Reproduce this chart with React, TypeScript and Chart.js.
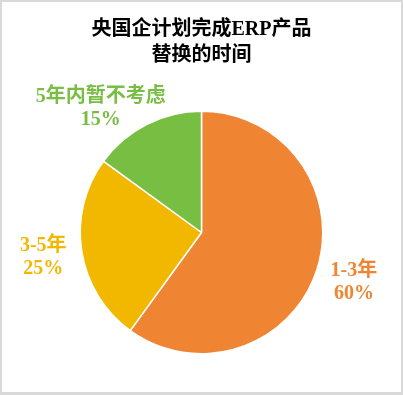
import React, { useEffect, useRef } from "react";
import { Chart, registerables } from "chart.js";

Chart.register(...registerables);

const categories = ["1-3年", "3-5年", "5年内暂不考虑"];
const values = [60, 25, 15];
const colors = ["#EF8533", "#F2B800", "#78BE43"];
const titleLines = ["央国企计划完成ERP产品", "替换的时间"];

const FONT = '"Liberation Serif", "Noto Sans CJK SC", serif';

const labelPlugin = {
  id: "outerLabels",
  afterDatasetsDraw(chart: any, _args: any, opts: any) {
    const ctx = chart.ctx;
    const meta = chart.getDatasetMeta(0);
    const data = chart.data.datasets[0].data as number[];
    const total = data.reduce((a, b) => a + b, 0);
    const shifts: number[] = opts.angleShifts || [];
    const dist: number = opts.distance || 40;
    ctx.save();
    ctx.font = `bold 20px ${FONT}`;
    ctx.textAlign = "center";
    ctx.textBaseline = "middle";
    meta.data.forEach((arc: any, i: number) => {
      const p = arc.getProps(["x", "y", "startAngle", "endAngle", "outerRadius"], true);
      const mid = (p.startAngle + p.endAngle) / 2 + ((shifts[i] || 0) * Math.PI) / 180;
      const r = p.outerRadius + dist;
      const cx = p.x + Math.cos(mid) * r;
      const cy = p.y + Math.sin(mid) * r;
      const pct = Math.round((data[i] / total) * 100) + "%";
      ctx.fillStyle = colors[i];
      ctx.fillText(chart.data.labels[i], cx, cy - 11.5);
      ctx.fillText(pct, cx, cy + 11.5);
    });
    ctx.restore();
  },
};

export default function App() {
  const ref = useRef<HTMLCanvasElement>(null);
  useEffect(() => {
    document.body.style.margin = "0";
    const chart = new Chart(ref.current!, {
      type: "pie",
      data: {
        labels: categories,
        datasets: [
          {
            data: values,
            backgroundColor: colors,
            borderColor: "#FFFFFF",
            borderWidth: 1.5,
          },
        ],
      },
      options: {
        animation: false,
        responsive: false,
        maintainAspectRatio: false,
        layout: { padding: { top: 0, bottom: 37.5, left: 77.5, right: 77.5 } },
        plugins: {
          legend: { display: false },
          tooltip: { enabled: false },
          title: {
            display: true,
            text: titleLines,
            color: "#000000",
            font: { family: FONT, size: 20, weight: "bold", lineHeight: 1.3 },
            padding: { top: 15, bottom: 41.5 },
          },
          outerLabels: { angleShifts: [0, 0, -12], distance: 39 },
        } as any,
      },
      plugins: [labelPlugin],
    });
    return () => chart.destroy();
  }, []);
  return (
    <div
      style={{
        position: "absolute",
        left: 0,
        top: 0,
        width: 403,
        height: 395,
        boxSizing: "border-box",
        borderStyle: "solid",
        borderColor: "#D9D9D9",
        borderWidth: "2px 2px 3px 2px",
        background: "#FFFFFF",
      }}
    >
      <canvas ref={ref} width={399} height={390} style={{ display: "block", width: 399, height: 390 }} />
    </div>
  );
}
